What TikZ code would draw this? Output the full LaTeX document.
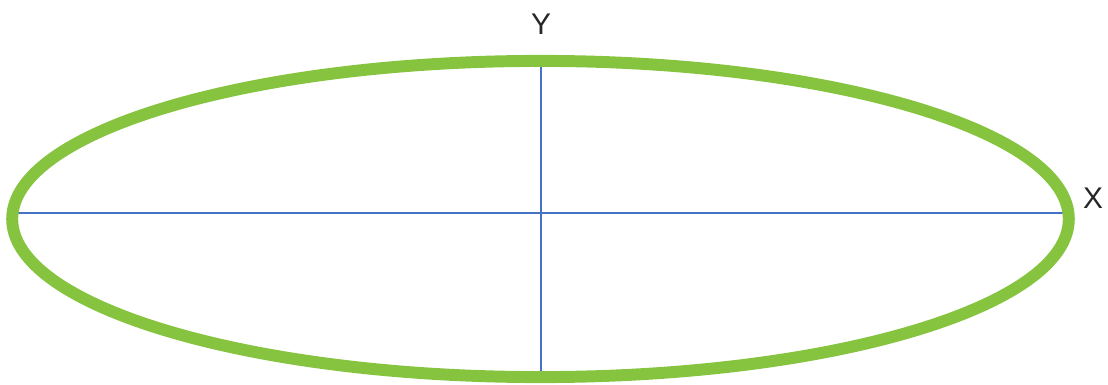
\documentclass[tikz,border=0pt]{standalone}
\usepackage{fontspec}
\setmainfont{Liberation Sans}
\usepackage{tikz}
\usetikzlibrary{positioning}
\definecolor{ovalgreen}{HTML}{86C440}
\definecolor{axisblue}{HTML}{4472C4}
\tikzset{
  axisline/.style={axisblue,line width=0.45pt},
  axislabel/.style={font=\fontsize{8.5}{10}\selectfont,text=black!85,inner sep=0pt}
}

\begin{document}
\begin{tikzpicture}[x=0.01cm,y=-0.01cm]
        \useasboundingbox (0,0) rectangle (1108,385);
        % axes
        \coordinate (xl) at (12,213);
        \coordinate (xr) at (1067,213);
        \coordinate (yt) at (541,62);
        \coordinate (yb) at (541,376);
        \draw[axisline] (xl) -- (xr);
        \draw[axisline] (yt) -- (yb);
        % the oval
        \draw[ovalgreen,line width=3.4pt] (540.5,219) ellipse (5.28cm and 1.58cm);
        \node[axislabel] (ylab) at (541,24) {Y};
        \node[axislabel] (xlab) at (1093,198) {X};
      \end{tikzpicture}
\end{document}
